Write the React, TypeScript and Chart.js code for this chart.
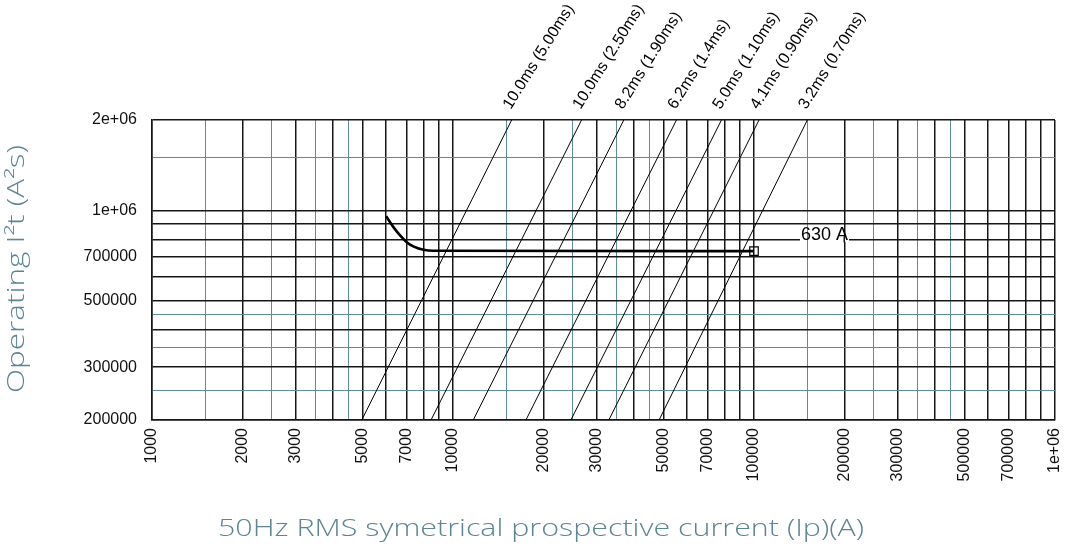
import React, { useEffect, useRef } from "react";
import { Chart, registerables } from "chart.js";

Chart.register(...registerables);

// ---------------- data ----------------
const xDecades = [1000, 10000, 100000, 1000000];
const yDecades = [100000, 1000000];
const majorSteps = [1, 2, 3, 4, 5, 6, 7, 8, 9];
const minorSteps = [1.5, 2.5, 3.5, 4.5];

const xAxisMin = 1000;
const xAxisMax = 1000000;
const yAxisMin = 200000;
const yAxisMax = 2000000;

const xTickLabels = [1000, 2000, 3000, 5000, 7000, 10000, 20000, 30000, 50000, 70000, 100000, 200000, 300000, 500000, 700000, 1000000];
const yTickLabels = [200000, 300000, 500000, 700000, 1000000, 2000000];

// 630 A fuse operating I²t curve
const curveCurrent = [6000, 6340, 6670, 7020, 7380, 7970, 8600, 100000];
const curveI2t = [955000, 879000, 825000, 783000, 758000, 739000, 733000, 731000];

const ratingLabel = "630 A";
const ratingCurrent = 100000;
const ratingI2t = 731000;
const ratingLabelCurrent = 100000;
const ratingLabelI2t = 800000;

// cut-off (let-through) lines
const cutoffLabels = ["10.0ms (5.00ms)", "10.0ms (2.50ms)", "8.2ms (1.90ms)", "6.2ms (1.4ms)", "5.0ms (1.10ms)", "4.1ms (0.90ms)", "3.2ms (0.70ms)"];
const cutoffCurrentLow = [4977, 8453, 11676, 17470, 24640, 32940, 48380];
const cutoffCurrentHigh = [15660, 26740, 36940, 55260, 77960, 103900, 150400];
const cutoffI2tLow = 200000;
const cutoffI2tHigh = 2000000;

const xTitle = "50Hz RMS symetrical prospective current (Ip)(A)";
const yTitle = "Operating I\u00b2t (A\u00b2s)";

// ---------------- styles ----------------
const BLACK = "#161616";
const TEAL = "#5c8e98";
const TITLE_COLOR = "#5b8593";
const TICK_FONT = '"Liberation Sans", Arial, sans-serif';
const TITLE_FONT = '300 23px "Open Sans", Lato, sans-serif';

const buildGrid = (decades: number[], min: number, max: number) => {
  const vals: number[] = [];
  for (const d of decades) {
    for (const s of [...majorSteps, ...minorSteps]) {
      const v = Math.round(d * s);
      if (v >= min && v <= max) vals.push(v);
    }
  }
  return Array.from(new Set(vals)).sort((a, b) => a - b);
};

const minorSet = new Set<number>();
for (const d of [...xDecades, ...yDecades]) for (const s of minorSteps) minorSet.add(Math.round(d * s));

const xGrid = buildGrid(xDecades, xAxisMin, xAxisMax);
const yGrid = buildGrid(yDecades, yAxisMin, yAxisMax);

const fmt = (v: number) => (v >= 1000000 ? `${Math.round(v / 1000000)}e+06` : String(v));

const gridColor = (ctx: any) => (minorSet.has(Math.round(ctx.tick?.value)) ? TEAL : BLACK);
const gridWidth = (ctx: any) => (minorSet.has(Math.round(ctx.tick?.value)) ? 1 : 1.5);

const drawStretched = (ctx: any, text: string, x: number, y: number, target: number) => {
  const w = ctx.measureText(text).width;
  ctx.save();
  ctx.translate(x, y);
  ctx.scale(target / w, 1);
  ctx.fillText(text, 0, 0);
  ctx.restore();
};

const annotationPlugin = {
  id: "fuseAnnotations",
  beforeDatasetsDraw(chart: any) {
    const { ctx } = chart;
    const x = chart.scales.x;
    const y = chart.scales.y;
    ctx.save();
    ctx.font = `18px ${TICK_FONT}`;
    const tx = x.getPixelForValue(ratingLabelCurrent) + 47;
    const ty = y.getPixelForValue(ratingLabelI2t);
    const w = ctx.measureText(ratingLabel).width;
    ctx.fillStyle = "#ffffff";
    ctx.fillRect(tx - 1, ty - 2.5, w + 2, 5);
    for (const v of xGrid) {
      const px = x.getPixelForValue(v);
      if (px >= tx - 2 && px <= tx + w + 2) {
        const minor = minorSet.has(v);
        const lw = minor ? 1 : 1.5;
        const ax = Math.round(px + lw / 2) - lw / 2;
        ctx.strokeStyle = minor ? TEAL : BLACK;
        ctx.lineWidth = lw;
        ctx.beginPath();
        ctx.moveTo(ax, ty - 3);
        ctx.lineTo(ax, ty + 3);
        ctx.stroke();
      }
    }
    ctx.restore();
  },
  afterDatasetsDraw(chart: any) {
    const { ctx } = chart;
    const x = chart.scales.x;
    const y = chart.scales.y;
    ctx.save();
    ctx.fillStyle = "#000";
    ctx.font = `18px ${TICK_FONT}`;
    ctx.textAlign = "left";
    ctx.textBaseline = "alphabetic";
    ctx.fillText(ratingLabel, x.getPixelForValue(ratingLabelCurrent) + 47, y.getPixelForValue(ratingLabelI2t) + 1);
    ctx.font = `16px ${TICK_FONT}`;
    const py = y.getPixelForValue(cutoffI2tHigh);
    cutoffLabels.forEach((lab, i) => {
      const px = x.getPixelForValue(cutoffCurrentHigh[i]);
      ctx.save();
      ctx.translate(px - 1, py - 10);
      ctx.rotate((-58 * Math.PI) / 180);
      ctx.fillText(lab, 0, 0);
      ctx.restore();
    });
    ctx.restore();
  },
  afterDraw(chart: any) {
    const { ctx } = chart;
    ctx.save();
    ctx.fillStyle = TITLE_COLOR;
    ctx.font = TITLE_FONT;
    ctx.textBaseline = "alphabetic";
    ctx.textAlign = "left";
    drawStretched(ctx, xTitle, 218, 536, 646);
    ctx.translate(24, 269);
    ctx.rotate(-Math.PI / 2);
    drawStretched(ctx, yTitle, -124, 0, 248);
    ctx.restore();
  },
};

export default function App() {
  const ref = useRef<HTMLCanvasElement | null>(null);

  useEffect(() => {
    if (!ref.current) return;
    const cutoffDatasets = cutoffLabels.map((lab, i) => ({
      label: lab,
      data: [
        { x: cutoffCurrentLow[i], y: cutoffI2tLow },
        { x: cutoffCurrentHigh[i], y: cutoffI2tHigh },
      ],
      borderColor: "#000",
      borderWidth: 1,
      pointRadius: 0,
      fill: false,
    }));

    const chart = new Chart(ref.current, {
      type: "line",
      data: {
        datasets: [
          ...cutoffDatasets,
          {
            label: ratingLabel,
            data: curveCurrent.map((c, i) => ({ x: c, y: curveI2t[i] })),
            borderColor: "#000",
            borderWidth: 2.6,
            pointRadius: 0,
            cubicInterpolationMode: "monotone",
            fill: false,
          },
          {
            label: "rating marker",
            data: [{ x: ratingCurrent, y: ratingI2t }],
            showLine: false,
            pointStyle: "rect",
            pointRadius: 6,
            pointBorderWidth: 1.2,
            pointBorderColor: "#000",
            pointBackgroundColor: "rgba(255,255,255,0)",
          },
        ] as any,
      },
      options: {
        animation: false,
        responsive: false,
        maintainAspectRatio: false,
        layout: { padding: { top: 120, right: 11, left: 0, bottom: 0 } },
        plugins: { legend: { display: false }, tooltip: { enabled: false }, title: { display: false } },
        elements: { line: { tension: 0 } },
        scales: {
          x: {
            type: "logarithmic",
            min: xAxisMin,
            max: xAxisMax,
            afterBuildTicks: (scale: any) => {
              scale.ticks = xGrid.map((v) => ({ value: v }));
            },
            afterFit: (scale: any) => {
              scale.height = 129;
              scale.paddingLeft = 0;
              scale.paddingRight = 0;
            },
            ticks: {
              autoSkip: false,
              minRotation: 90,
              maxRotation: 90,
              padding: 8,
              color: "#111",
              font: { family: TICK_FONT, size: 16 },
              callback: (v: any) => (xTickLabels.includes(Math.round(Number(v))) ? fmt(Number(v)) : ""),
            },
            grid: { color: gridColor, lineWidth: gridWidth, drawTicks: false },
            border: { color: BLACK, width: 1.5 },
          },
          y: {
            type: "logarithmic",
            min: yAxisMin,
            max: yAxisMax,
            afterBuildTicks: (scale: any) => {
              scale.ticks = yGrid.map((v) => ({ value: v }));
            },
            afterFit: (scale: any) => {
              scale.width = 152;
              scale.paddingTop = 0;
              scale.paddingBottom = 0;
            },
            ticks: {
              autoSkip: false,
              padding: 15,
              color: "#111",
              font: { family: TICK_FONT, size: 16 },
              callback: (v: any) => (yTickLabels.includes(Math.round(Number(v))) ? fmt(Number(v)) : ""),
            },
            grid: { color: gridColor, lineWidth: gridWidth, drawTicks: false },
            border: { color: BLACK, width: 1.5 },
          },
        },
      } as any,
      plugins: [annotationPlugin],
    });
    return () => chart.destroy();
  }, []);

  return (
    <div style={{ position: "absolute", left: 0, top: 0, width: 1066, height: 549, background: "#fff" }}>
      <canvas ref={ref} width={1066} height={549} style={{ display: "block" }} />
    </div>
  );
}
